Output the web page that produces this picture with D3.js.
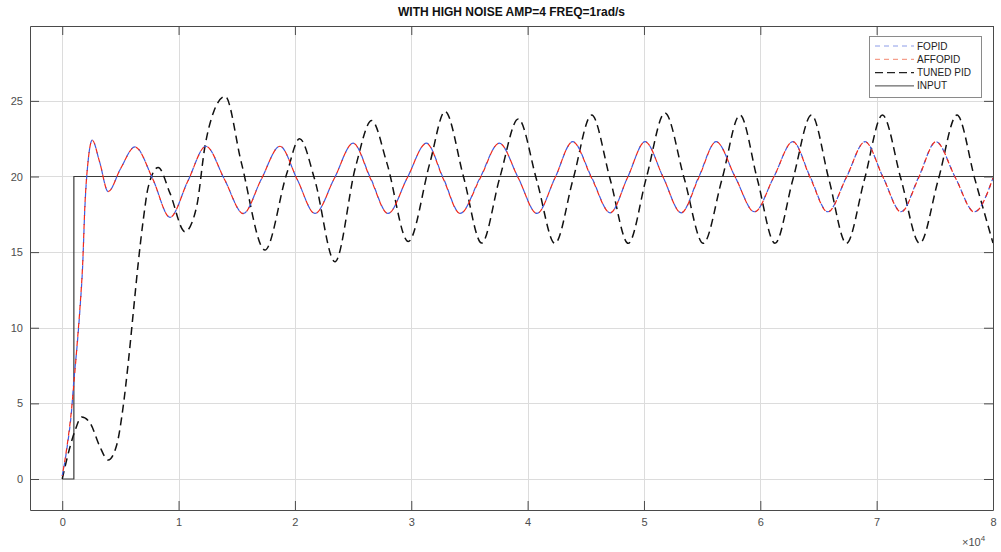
<!DOCTYPE html>
<html><head><meta charset="utf-8">
<script src="https://cdn.jsdelivr.net/npm/d3@7"></script>
<style>
html,body{margin:0;padding:0;background:#fff;}
svg{display:block;}
</style></head>
<body>
<svg id="chart" width="1001" height="552"></svg>
<script>
// time in units of 10^4 s
const titleText = "WITH HIGH NOISE AMP=4 FREQ=1rad/s";
const xTicks = [0,1,2,3,4,5,6,7,8];
const yTicks = [0,5,10,15,20,25];
const seriesNames = ["FOPID","AFFOPID","TUNED PID","INPUT"];

const fopidT = [0,0.04,0.08,0.1,0.13,0.155,0.175,0.195,0.225,0.258,0.32,0.395,0.5,0.625,0.78,0.926,1.08,1.235,1.395,1.556,1.71,1.871,2.02,2.172,2.34,2.5,2.65,2.8,2.965,3.13,3.275,3.42,3.59,3.756,3.92,4.08,4.235,4.387,4.55,4.71,4.86,5.01,5.165,5.32,5.47,5.62,5.785,5.95,6.115,6.28,6.43,6.58,6.74,6.9,7.055,7.21,7.36,7.51,7.675,7.84,8.0];
const fopidY = [0.2,2.0,4.5,6.5,9.0,11.5,14.0,18.0,21.2,22.4,21.0,19.0,20.5,21.96,19.8,17.3,19.7,22.0,19.8,17.56,19.8,22.0,19.8,17.56,19.9,22.2,19.9,17.56,19.9,22.2,19.9,17.56,19.9,22.2,19.9,17.56,19.9,22.3,19.95,17.6,19.95,22.3,19.95,17.6,19.95,22.3,19.95,17.67,19.95,22.3,19.95,17.67,19.95,22.3,19.95,17.67,19.95,22.3,19.95,17.67,19.9];

const affopidT = [0,0.04,0.08,0.1,0.13,0.155,0.175,0.195,0.225,0.258,0.32,0.395,0.5,0.625,0.78,0.926,1.08,1.235,1.395,1.556,1.71,1.871,2.02,2.172,2.34,2.5,2.65,2.8,2.965,3.13,3.275,3.42,3.59,3.756,3.92,4.08,4.235,4.387,4.55,4.71,4.86,5.01,5.165,5.32,5.47,5.62,5.785,5.95,6.115,6.28,6.43,6.58,6.74,6.9,7.055,7.21,7.36,7.51,7.675,7.84,8.0];
const affopidY = [0.2,2.1,4.6,6.3,9.1,11.6,14.1,18.1,21.2,22.4,21.0,19.0,20.5,21.95,19.8,17.3,19.7,22.0,19.8,17.55,19.8,22.0,19.8,17.55,19.9,22.2,19.85,17.55,19.9,22.2,19.85,17.55,19.85,22.2,19.9,17.55,19.9,22.3,19.9,17.6,19.95,22.3,19.95,17.6,19.9,22.3,19.95,17.65,19.95,22.3,19.9,17.65,19.95,22.3,19.95,17.65,19.9,22.3,19.95,17.65,19.9];

const tunedT = [0,0.066,0.11,0.167,0.24,0.32,0.395,0.47,0.524,0.567,0.61,0.653,0.696,0.739,0.825,0.926,1.055,1.155,1.227,1.298,1.40,1.54,1.742,1.93,2.04,2.17,2.344,2.52,2.66,2.79,2.974,3.16,3.29,3.45,3.605,3.76,3.92,4.08,4.235,4.39,4.55,4.71,4.865,5.02,5.18,5.345,5.51,5.67,5.825,5.975,6.126,6.28,6.44,6.59,6.74,6.895,7.05,7.21,7.37,7.53,7.69,7.845,8.0];
const tunedY = [0,2.1,3.2,4.1,3.7,2.2,1.25,2.3,4.8,7.65,10.95,14.26,17.1,19.3,20.6,18.9,16.35,18.0,22.0,24.2,25.3,20.9,15.14,20.2,22.5,19.8,14.36,20.6,23.7,20.9,15.7,20.9,24.3,19.95,15.6,19.9,23.8,19.7,15.58,19.8,24.06,19.8,15.58,19.9,24.2,19.9,15.58,19.8,24.06,19.8,15.58,19.8,24.06,19.8,15.58,19.8,24.06,19.8,15.58,19.8,24.06,19.8,15.6];

const inputT = [0,0.1,0.1,8];
const inputY = [0,0,20,20];

const svg = d3.select("#chart");
const L=30,R=993,T=26,B=510;
const x = d3.scaleLinear().domain([-0.277,8]).range([L,R]);
const y = d3.scaleLinear().domain([-2.05,29.95]).range([B,T]);
const font = "'Liberation Sans', Arial, sans-serif";

svg.append("rect").attr("x",L).attr("y",T).attr("width",R-L).attr("height",B-T).attr("fill","#fff");

// grid
const grid = svg.append("g").attr("stroke","#dcdcdc").attr("stroke-width",1);
xTicks.forEach(v=>grid.append("line").attr("x1",Math.round(x(v))+0.5).attr("x2",Math.round(x(v))+0.5).attr("y1",T).attr("y2",B));
yTicks.forEach(v=>grid.append("line").attr("y1",Math.round(y(v))+0.5).attr("y2",Math.round(y(v))+0.5).attr("x1",L).attr("x2",R));

// clip
svg.append("clipPath").attr("id","clip").append("rect").attr("x",L).attr("y",T).attr("width",R-L).attr("height",B-T);
const plot = svg.append("g").attr("clip-path","url(#clip)");

function mk(ts,ys){return ts.map((t,i)=>[t,ys[i]]);}
const smooth = d3.line().x(d=>x(d[0])).y(d=>y(d[1])).curve(d3.curveMonotoneX);
const lin = d3.line().x(d=>x(d[0])).y(d=>y(d[1]));

plot.append("path").datum(mk(inputT,inputY)).attr("d",lin).attr("fill","none").attr("stroke","#3a3a3a").attr("stroke-width",1.2);
plot.append("path").datum(mk(tunedT,tunedY)).attr("d",smooth).attr("fill","none").attr("stroke","#111").attr("stroke-width",1.5).attr("stroke-dasharray","8,5");
plot.append("path").datum(mk(fopidT,fopidY)).attr("d",smooth).attr("fill","none").attr("stroke","#3d5be0").attr("stroke-width",1.2).attr("stroke-dasharray","5,4");
plot.append("path").datum(mk(affopidT,affopidY)).attr("d",smooth).attr("fill","none").attr("stroke","#f0281a").attr("stroke-width",1.2).attr("stroke-dasharray","5,4").attr("stroke-dashoffset",4);

// axes
function styleAxis(g){
  g.select(".domain").attr("stroke","#4a4a4a");
  g.selectAll(".tick line").attr("stroke","#4a4a4a");
  g.selectAll(".tick text").attr("fill","#4d4d4d").style("font-family",font).style("font-size","11px");
}
svg.append("g").attr("transform",`translate(0,${B})`).call(d3.axisBottom(x).tickValues(xTicks).tickFormat(d3.format("d")).tickSize(-9).tickPadding(8).tickSizeOuter(0)).call(styleAxis);
svg.append("g").attr("transform",`translate(0,${T})`).call(d3.axisTop(x).tickValues(xTicks).tickFormat("").tickSize(-9).tickSizeOuter(0)).call(styleAxis);
svg.append("g").attr("transform",`translate(${L},0)`).call(d3.axisLeft(y).tickValues(yTicks).tickFormat(d3.format("d")).tickSize(-9).tickPadding(7).tickSizeOuter(0)).call(styleAxis);
svg.append("g").attr("transform",`translate(${R},0)`).call(d3.axisRight(y).tickValues(yTicks).tickFormat("").tickSize(-9).tickSizeOuter(0)).call(styleAxis);

// exponent label
const ex = svg.append("text").attr("x",962).attr("y",546).attr("fill","#4d4d4d").style("font-family",font).style("font-size","11px");
ex.append("tspan").text("\u00d710");
ex.append("tspan").attr("dy",-5).style("font-size","8px").text("4");

// title
svg.append("text").attr("x",(L+R)/2).attr("y",16).attr("text-anchor","middle").attr("fill","#111")
  .style("font-family","'Liberation Sans Narrow', 'Liberation Sans', Arial, sans-serif").style("font-weight","bold").style("font-size","12px").text(titleText);

// legend
const lg = svg.append("g");
lg.append("rect").attr("x",869.5).attr("y",36.5).attr("width",112).attr("height",61).attr("fill","#fff").attr("stroke","#8a8a8a").attr("stroke-width",1);
const legStyles = [
  {c:"#8c9ce8",w:1,d:"5,4"},
  {c:"#f3866f",w:1,d:"5,4"},
  {c:"#222",w:1.3,d:"8,4"},
  {c:"#444",w:1,d:null}
];
seriesNames.forEach((n,i)=>{
  const yy = 46 + i*13.3;
  const ln = lg.append("line").attr("x1",875).attr("x2",914).attr("y1",yy).attr("y2",yy).attr("stroke",legStyles[i].c).attr("stroke-width",legStyles[i].w);
  if(legStyles[i].d) ln.attr("stroke-dasharray",legStyles[i].d);
  lg.append("text").attr("x",917).attr("y",yy+3.5).attr("fill","#222").style("font-family",font).style("font-size","10px").text(n);
});
</script>
</body></html>
